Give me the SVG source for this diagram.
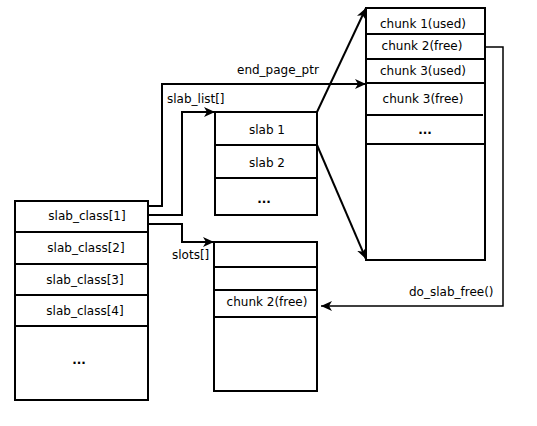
<svg xmlns="http://www.w3.org/2000/svg" width="537" height="426" viewBox="0 0 537 426">
<defs>
<marker id="arr" markerUnits="userSpaceOnUse" markerWidth="12" markerHeight="10" refX="11" refY="5" orient="auto">
<path d="M0,0 L11,5 L0,10 L3,5 z" fill="#000"/>
</marker>
<style>
.box{fill:#fff;stroke:#000;stroke-width:2}
.sep{stroke:#000;stroke-width:2}
.t{font-family:"DejaVu Sans",sans-serif;font-size:12px;fill:#000}
.c{text-anchor:middle}
.d{font-weight:bold}
.con{fill:none;stroke:#000;stroke-width:2}
.thin{fill:none;stroke:#000;stroke-width:1.5}
</style>
</defs>
<rect width="537" height="426" fill="#fff"/>
<g id="slab_class">
<rect class="box" x="15" y="201" width="133" height="199"/>
<line class="sep" x1="15" y1="232" x2="148" y2="232"/>
<line class="sep" x1="15" y1="264" x2="148" y2="264"/>
<line class="sep" x1="15" y1="295" x2="148" y2="295"/>
<line class="sep" x1="15" y1="326" x2="148" y2="326"/>
<text class="t c" x="87" y="220">slab_class[1]</text>
<text class="t c" x="86" y="252">slab_class[2]</text>
<text class="t c" x="85" y="284">slab_class[3]</text>
<text class="t c" x="85" y="315">slab_class[4]</text>
<text class="t c d" x="79" y="364">...</text>
</g>
<g id="slab_list">
<rect class="box" x="215" y="112" width="102" height="103"/>
<line class="sep" x1="215" y1="145" x2="317" y2="145"/>
<line class="sep" x1="215" y1="178" x2="317" y2="178"/>
<text class="t c" x="267" y="134">slab 1</text>
<text class="t c" x="267" y="167">slab 2</text>
<text class="t c d" x="264" y="203">...</text>
</g>
<g id="chunks">
<rect class="box" x="366" y="8" width="119" height="252"/>
<line class="sep" x1="366" y1="34" x2="485" y2="34"/>
<line class="sep" x1="366" y1="59" x2="485" y2="59"/>
<line class="sep" x1="366" y1="83" x2="485" y2="83"/>
<line class="sep" x1="366" y1="115" x2="483" y2="115"/>
<line class="sep" x1="366" y1="144" x2="485" y2="144"/>
<text class="t c" x="423" y="28">chunk 1(used)</text>
<text class="t c" x="422" y="50">chunk 2(free)</text>
<text class="t c" x="423" y="75">chunk 3(used)</text>
<text class="t c" x="423" y="103">chunk 3(free)</text>
<text class="t c d" x="425" y="134">...</text>
</g>
<g id="slots">
<rect class="box" x="214" y="242" width="103" height="149"/>
<line class="sep" x1="214" y1="267" x2="317" y2="267"/>
<line class="sep" x1="214" y1="290" x2="317" y2="290"/>
<line class="sep" x1="214" y1="317" x2="317" y2="317"/>
<text class="t c" x="267" y="306">chunk 2(free)</text>
</g>
<g id="connectors">
<polyline class="con" points="148,206 162,206 162,84 366,84" marker-end="url(#arr)"/>
<polyline class="con" points="148,215 182,215 182,112 215,112" marker-end="url(#arr)"/>
<polyline class="con" points="148,224 182,224 182,242 214,242" marker-end="url(#arr)"/>
<line class="con" x1="317" y1="112" x2="366" y2="8" marker-end="url(#arr)"/>
<line class="con" x1="317" y1="145" x2="366" y2="259" marker-end="url(#arr)"/>
<polyline class="thin" points="485,47 503,47 503,306 321,306" marker-end="url(#arr)"/>
<text class="t" x="237" y="74">end_page_ptr</text>
<text class="t" x="167" y="103">slab_list[]</text>
<text class="t" x="172" y="259">slots[]</text>
<text class="t" x="409" y="296">do_slab_free()</text>
</g>
</svg>
